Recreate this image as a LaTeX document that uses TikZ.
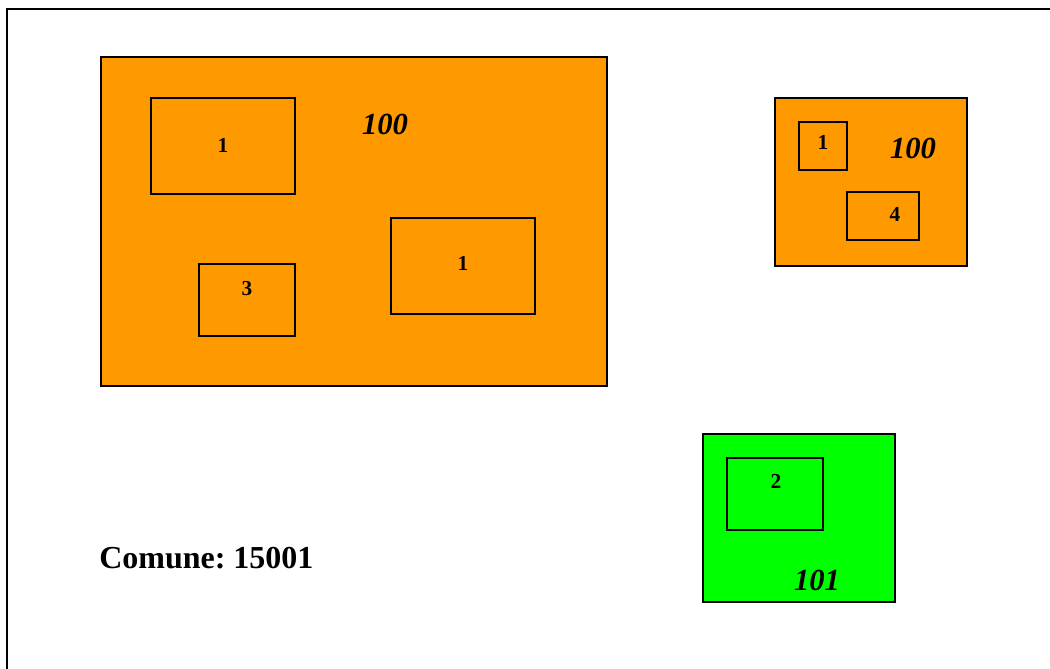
\documentclass[tikz,border=0pt]{standalone}
\usepackage{fontspec}
\setmainfont{Liberation Serif}[BoldFont={Liberation Serif Bold},ItalicFont={Liberation Serif Italic},BoldItalicFont={Liberation Serif Bold Italic}]
\definecolor{parcelorange}{HTML}{FF9900}
\definecolor{parcelgreen}{HTML}{00FF00}
\frenchspacing
\begin{document}
\begin{tikzpicture}[x=0.75pt,y=-0.75pt,
  parcel/.style={draw=black,line width=1.5pt},
  building/.style={draw=black,line width=1.5pt},
  bldlabel/.style={anchor=base,inner sep=0pt,font=\bfseries\fontsize{16}{18}\selectfont},
  parcellabel/.style={anchor=base,inner sep=0pt,font=\bfseries\itshape\fontsize{23}{26}\selectfont},
  frame/.style={draw=black,line width=1.6pt}]
\useasboundingbox (0,0) rectangle (1050,668);
\clip (0,0) rectangle (1050,668);
\draw[frame] (7,700) -- (7,9) -- (1070,9);
% big orange parcel
\draw[parcel,fill=parcelorange] (101,57) rectangle (607,386);
\draw[building] (151,98) rectangle (295,194);
\node[bldlabel] (b1) at (223,152) {1};
\draw[building] (199,264) rectangle (295,336);
\node[bldlabel] (b3) at (247,295) {3};
\draw[building] (391,218) rectangle (535,314);
\node[bldlabel] (b1b) at (463,270) {1};
\node[parcellabel] (p100a) at (385,134) {100};
% small orange parcel
\draw[parcel,fill=parcelorange] (775,98) rectangle (967,266);
\draw[building] (799,122) rectangle (847,170);
\node[bldlabel] (b1c) at (823,149) {1};
\draw[building] (847,192) rectangle (919,240);
\node[bldlabel] (b4) at (895,221) {4};
\node[parcellabel] (p100b) at (913,158) {100};
% green parcel
\draw[parcel,fill=parcelgreen] (703,434) rectangle (895,602);
\draw[building] (727,458) rectangle (823,530);
\node[bldlabel] (b2) at (776,488) {2};
\node[parcellabel] (p101) at (817,590) {101};
% commune label
\node[anchor=base west,inner sep=0pt,font=\bfseries\fontsize{24}{28}\selectfont] (comune) at (99,568) {Comune: 15001};
\end{tikzpicture}
\end{document}
